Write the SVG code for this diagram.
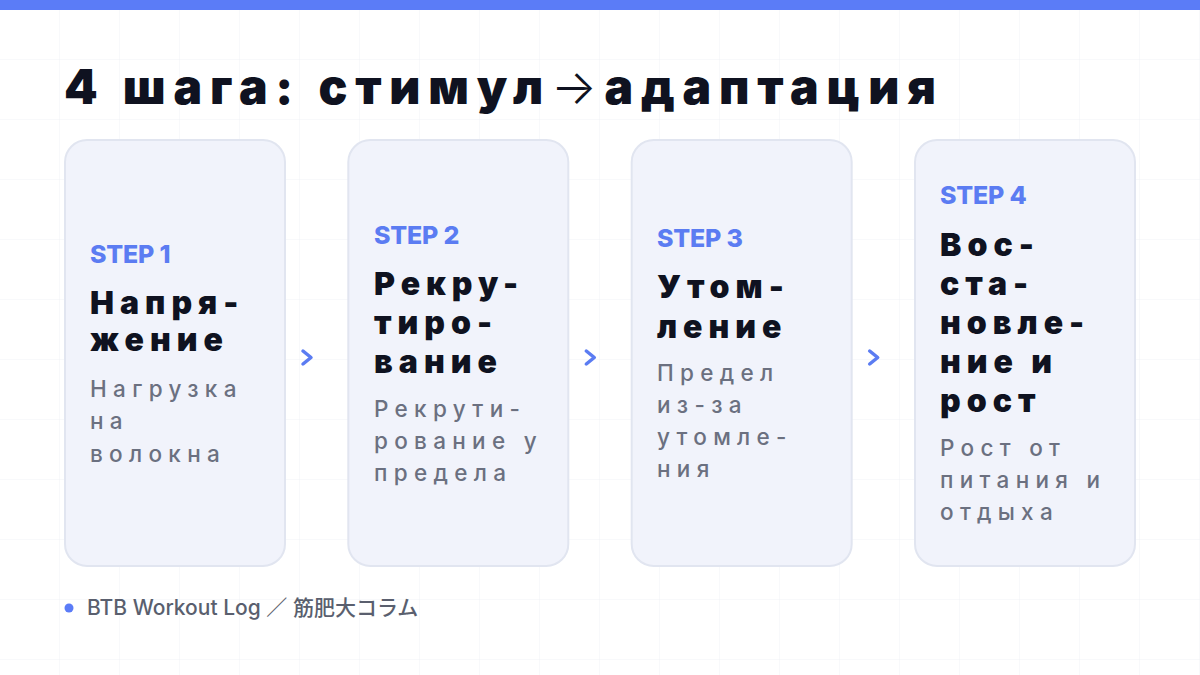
<svg xmlns="http://www.w3.org/2000/svg" width="1200" height="675" viewBox="0 0 1200 675">
  <defs>
    <pattern id="grid" width="60" height="60" patternUnits="userSpaceOnUse">
      <path d="M60 0 V60 M0 60 H60" fill="none" stroke="#F1F2F6" stroke-width="1"/>
    </pattern>
    <style>
      .title { font-family: Inter, "Liberation Sans", sans-serif; font-weight: 900; font-size: 48px; fill: #0F1220; letter-spacing: 7.8px; }
      .card { fill: #F1F3FB; stroke: #E1E5F0; stroke-width: 2; }
      .step { font-family: Inter, "Liberation Sans", sans-serif; font-weight: 800; font-size: 25px; fill: #5B7CF2; letter-spacing: -0.2px; }
      .head { font-family: Inter, "Liberation Sans", sans-serif; font-weight: 900; font-size: 32px; fill: #0F1220; letter-spacing: 6px; }
      .sub { font-family: Inter, "Liberation Sans", sans-serif; font-weight: 500; font-size: 22.5px; fill: #6B7080; letter-spacing: 6.3px; }
      .chev { fill: none; stroke: #5B7CF2; stroke-width: 3.5; stroke-linecap: round; stroke-linejoin: round; }
      .foot { font-family: Inter, "Noto Sans CJK JP", sans-serif; font-weight: 500; font-size: 21px; fill: #5A5F6E; }
    </style>
  </defs>
  <rect width="1200" height="675" fill="#FFFFFF"/>
  <rect width="1200" height="675" fill="url(#grid)"/>
  <rect x="0" y="0" width="1200" height="10" fill="#5B7CF7"/>

  <g id="title">
    <text class="title" x="64" y="104">4 шага: стимул<tspan font-weight="300">→</tspan>адаптация</text>
  </g>

  <g id="step1">
    <rect class="card" x="65" y="140" width="220" height="426" rx="22"/>
    <text class="step" x="90" y="263">STEP 1</text>
    <text class="head" x="90" y="314">Напря-</text>
    <text class="head" x="90" y="351">жение</text>
    <text class="sub" x="90" y="397">Нагрузка</text>
    <text class="sub" x="90" y="429">на</text>
    <text class="sub" x="90" y="462">волокна</text>
  </g>

  <g id="step2">
    <rect class="card" x="348.3" y="140" width="220" height="426" rx="22"/>
    <text class="step" x="374" y="244">STEP 2</text>
    <text class="head" x="374" y="295">Рекру-</text>
    <text class="head" x="374" y="334">тиро-</text>
    <text class="head" x="374" y="373">вание</text>
    <text class="sub" x="374" y="417">Рекрути-</text>
    <text class="sub" x="374" y="449">рование у</text>
    <text class="sub" x="374" y="481">предела</text>
  </g>

  <g id="step3">
    <rect class="card" x="631.7" y="140" width="220" height="426" rx="22"/>
    <text class="step" x="657" y="247">STEP 3</text>
    <text class="head" x="657" y="298">Утом-</text>
    <text class="head" x="657" y="338">ление</text>
    <text class="sub" x="657" y="381">Предел</text>
    <text class="sub" x="657" y="413">из-за</text>
    <text class="sub" x="657" y="445">утомле-</text>
    <text class="sub" x="657" y="477">ния</text>
  </g>

  <g id="step4">
    <rect class="card" x="915" y="140" width="220" height="426" rx="22"/>
    <text class="step" x="940" y="204">STEP 4</text>
    <text class="head" x="940" y="256">Вос-</text>
    <text class="head" x="940" y="295">ста-</text>
    <text class="head" x="940" y="334">новле-</text>
    <text class="head" x="940" y="373">ние и</text>
    <text class="head" x="940" y="412">рост</text>
    <text class="sub" x="940" y="456">Рост от</text>
    <text class="sub" x="940" y="488">питания и</text>
    <text class="sub" x="940" y="520">отдыха</text>
  </g>

  <g id="connectors">
    <path class="chev" d="M303 351 L311 357.5 L303 364"/>
    <path class="chev" d="M586.3 351 L594.3 357.5 L586.3 364"/>
    <path class="chev" d="M869.7 351 L877.7 357.5 L869.7 364"/>
  </g>

  <g id="footer">
    <circle cx="69" cy="608" r="4.5" fill="#5B7CF7"/>
    <text class="foot" x="87" y="615">BTB Workout Log ／ 筋肥大コラム</text>
  </g>
</svg>
